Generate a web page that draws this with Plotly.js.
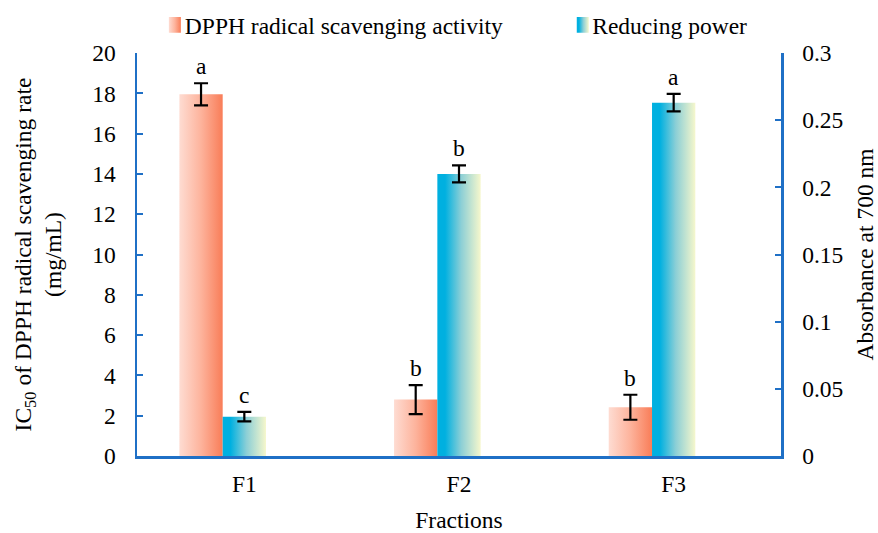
<!DOCTYPE html>
<html>
<head>
<meta charset="utf-8">
<script src="https://cdn.plot.ly/plotly-3.0.1.min.js"></script>
<style>
  html, body { margin: 0; padding: 0; background: #fff; }
  #chart { width: 878px; height: 533px; }
</style>
</head>
<body>
<div id="chart"></div>
<script>
// ---- data ----
const fractions = ['F1', 'F2', 'F3'];
const dpphIC50 = [17.95, 2.80, 2.42];
const dpphErr = [0.55, 0.72, 0.62];
const reducingPower = [0.0293, 0.210, 0.263];
const reducingErr = [0.0035, 0.0063, 0.0065];
const dpphLetters = ['a', 'b', 'b'];
const reducingLetters = ['c', 'b', 'a'];
const leftTicks = [0, 2, 4, 6, 8, 10, 12, 14, 16, 18, 20];
const rightTicks = [0, 0.05, 0.1, 0.15, 0.2, 0.25, 0.3];
const rightTickText = ['0', '0.05', '0.1', '0.15', '0.2', '0.25', '0.3'];

// ---- style ----
const FONT = 'Liberation Serif, Times New Roman, serif';
const AXIS_BLUE = '#1f70c6';
const BAR_W = 0.2017;
const FS = 23.5;

const traces = [
  {
    type: 'bar', name: 'DPPH radical scavenging activity',
    x: fractions, y: dpphIC50, yaxis: 'y', legend: 'legend',
    width: BAR_W, offset: -1.5 * BAR_W,
    marker: { color: '#fb8a68', line: { width: 0 } },
    error_y: { type: 'data', array: dpphErr, visible: true, color: '#000', thickness: 2.2, width: 7 }
  },
  {
    type: 'bar', name: 'Reducing power',
    x: fractions, y: reducingPower, yaxis: 'y2', legend: 'legend2',
    width: BAR_W, offset: -0.5 * BAR_W,
    marker: { color: '#5ac0d8', line: { width: 0 } },
    error_y: { type: 'data', array: reducingErr, visible: true, color: '#000', thickness: 2.2, width: 7 }
  }
];

const annotations = [];
fractions.forEach((f, i) => {
  annotations.push({
    x: i - BAR_W, y: dpphIC50[i] + dpphErr[i], xref: 'x', yref: 'y',
    text: dpphLetters[i], showarrow: false, yanchor: 'bottom', yshift: 2,
    font: { family: FONT, size: FS, color: '#000' }
  });
  annotations.push({
    x: i, y: reducingPower[i] + reducingErr[i], xref: 'x', yref: 'y2',
    text: reducingLetters[i], showarrow: false, yanchor: 'bottom', yshift: 2,
    font: { family: FONT, size: FS, color: '#000' }
  });
});

const layout = {
  width: 878, height: 533,
  margin: { l: 137, r: 97, t: 53, b: 77, pad: 0 },
  paper_bgcolor: '#fff', plot_bgcolor: '#fff',
  font: { family: FONT, size: FS, color: '#000' },
  barmode: 'overlay',
  showlegend: true,
  xaxis: {
    type: 'category', range: [-0.5, 2.5],
    showline: true, linecolor: AXIS_BLUE, linewidth: 2.5,
    ticks: '', showgrid: false, zeroline: false,
    tickfont: { family: FONT, size: FS, color: '#000' },
    ticklabelstandoff: 5,
    title: { text: 'Fractions', font: { family: FONT, size: FS, color: '#000' }, standoff: 16 }
  },
  yaxis: {
    range: [0, 20], tickvals: leftTicks,
    showline: true, linecolor: AXIS_BLUE, linewidth: 2.5,
    ticks: 'inside', ticklen: 6, tickwidth: 2, tickcolor: AXIS_BLUE,
    showgrid: false, zeroline: false,
    tickfont: { family: FONT, size: FS, color: '#000' },
    ticklabelstandoff: 14,
    title: { text: 'IC<sub>50</sub> of DPPH radical scavenging rate<br>(mg/mL)', font: { family: FONT, size: FS, color: '#000' }, standoff: 24 }
  },
  yaxis2: {
    overlaying: 'y', side: 'right', range: [0, 0.3],
    tickvals: rightTicks, ticktext: rightTickText,
    showline: true, linecolor: AXIS_BLUE, linewidth: 2.5,
    ticks: 'inside', ticklen: 6, tickwidth: 2, tickcolor: AXIS_BLUE,
    showgrid: false, zeroline: false,
    tickfont: { family: FONT, size: FS, color: '#000' },
    ticklabelstandoff: 14,
    title: { text: 'Absorbance at 700 nm', font: { family: FONT, size: FS, color: '#000' }, standoff: 14 }
  },
  legend: {
    orientation: 'h', xref: 'container', yref: 'container',
    x: 0.165, y: 0.953, xanchor: 'left', yanchor: 'middle',
    bgcolor: 'rgba(0,0,0,0)', itemwidth: 30, font: { family: FONT, size: FS, color: '#000' }
  },
  legend2: {
    orientation: 'h', xref: 'container', yref: 'container',
    x: 0.629, y: 0.953, xanchor: 'left', yanchor: 'middle',
    bgcolor: 'rgba(0,0,0,0)', itemwidth: 30, font: { family: FONT, size: FS, color: '#000' }
  },
  annotations: annotations
};

function addGradients(gd) {
  const svg = gd.querySelector('svg.main-svg');
  const ns = 'http://www.w3.org/2000/svg';
  let defs = svg.querySelector('defs');
  if (!defs) { defs = document.createElementNS(ns, 'defs'); svg.insertBefore(defs, svg.firstChild); }
  function grad(id, stops) {
    const g = document.createElementNS(ns, 'linearGradient');
    g.setAttribute('id', id);
    g.setAttribute('x1', '0'); g.setAttribute('y1', '0');
    g.setAttribute('x2', '1'); g.setAttribute('y2', '0');
    stops.forEach(s => {
      const st = document.createElementNS(ns, 'stop');
      st.setAttribute('offset', s[0]);
      st.setAttribute('stop-color', s[1]);
      g.appendChild(st);
    });
    defs.appendChild(g);
  }
  grad('gradOrange', [[0, '#fedcd2'], [0.5, '#fdb39c'], [1, '#f97d58']]);
  grad('gradBlue', [[0, '#00b0e0'], [0.18, '#00b0e0'], [0.55, '#8ccfd6'], [1, '#f6f7cc']]);
  const barTraces = gd.querySelectorAll('.barlayer .trace.bars');
  const ids = ['gradOrange', 'gradBlue'];
  barTraces.forEach((t, k) => {
    t.querySelectorAll('.point path').forEach(p => { p.style.fill = 'url(#' + ids[k] + ')'; });
  });
  const legends = [gd.querySelector('.legend'), gd.querySelector('.legend2')];
  const shifts = [10, 10.5];
  legends.forEach((lg, k) => {
    if (!lg) return;
    lg.querySelectorAll('.legendpoints path').forEach(p => {
      p.style.fill = 'url(#' + ids[k] + ')';
      const old = p.getAttribute('transform') || '';
      p.setAttribute('transform', old + ' translate(' + shifts[k] + ',0) scale(1,1.3)');
    });
  });
}

Plotly.newPlot('chart', traces, layout, { displayModeBar: false, staticPlot: true }).then(gd => {
  addGradients(gd);
});
</script>
</body>
</html>
